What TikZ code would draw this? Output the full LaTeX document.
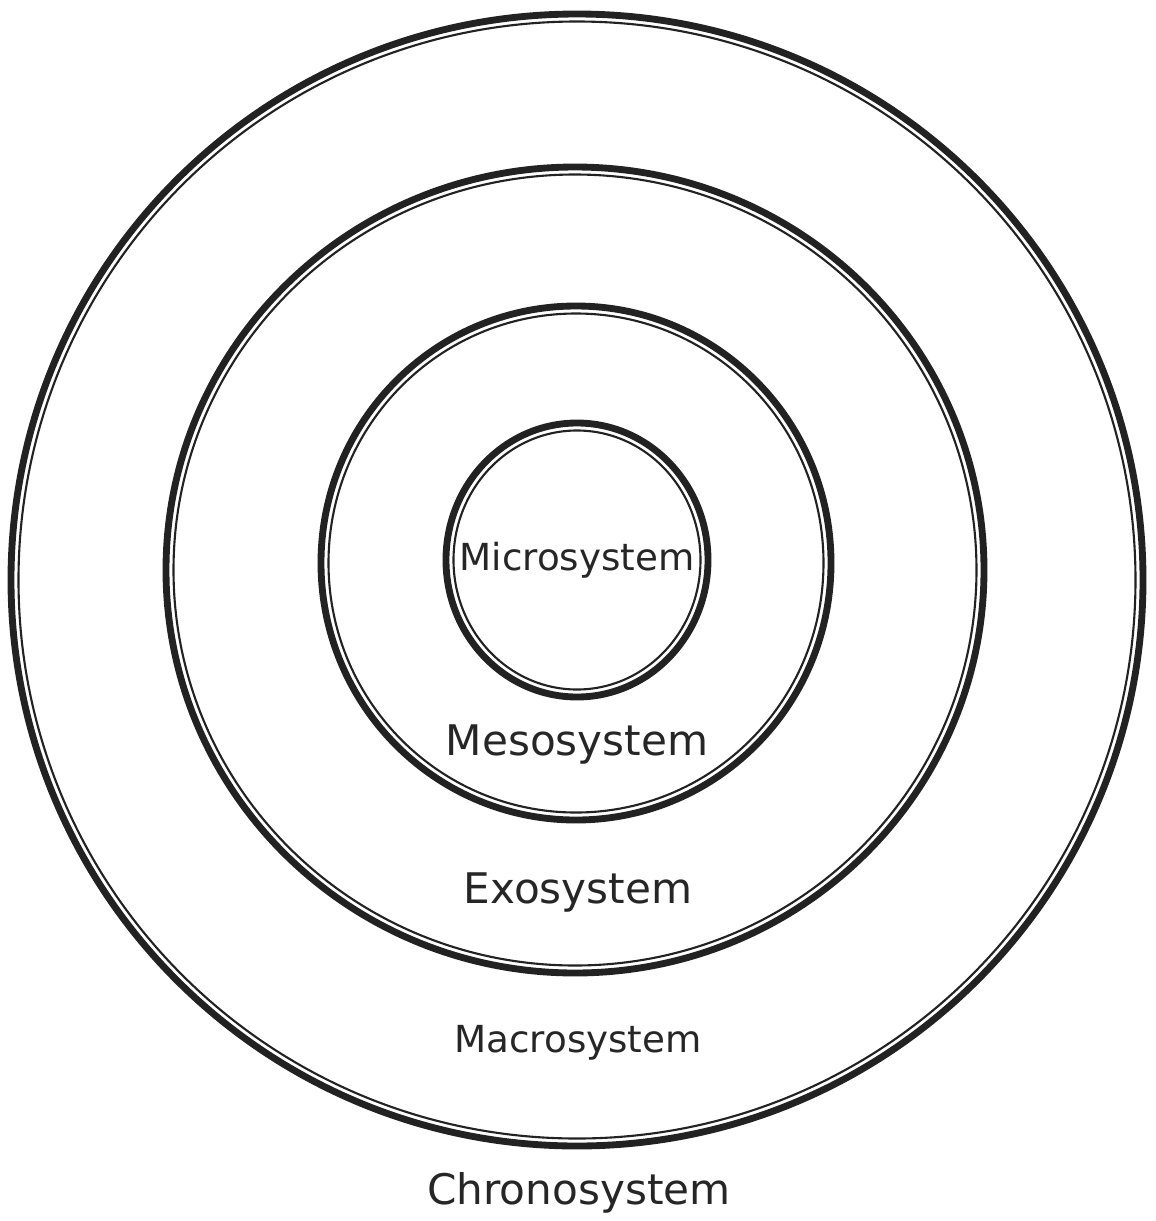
\documentclass[tikz,border=0pt]{standalone}
\usepackage{fontspec}
\setmainfont{DejaVu Sans}
\definecolor{ringink}{HTML}{222222}
\definecolor{textink}{HTML}{262626}

\begin{document}
\begin{tikzpicture}[x=0.02cm, y=-0.02cm,
    ringouter/.style={draw=ringink, line width=3.9pt},
    ringinner/.style={draw=ringink, line width=1.2pt},
    bigtext/.style={font=\fontsize{24}{28}\selectfont, text=textink, inner sep=0pt},
    smalltext/.style={font=\fontsize{21.2}{25}\selectfont, text=textink, inner sep=0pt}]
  \useasboundingbox (0,0) rectangle (1156,1221);
  \def\gap{7.5}  % distance between the thick and the thin line
  % rings: centre x / centre y / x radius / y radius
  \foreach \cx/\cy/\rx/\ry in {577/580/566/566, 575/570/409/403,
                               576/563/255/257, 577/560/131/137}{
    \draw[ringouter] (\cx,\cy) ellipse [x radius=\rx, y radius=\ry];
    \draw[ringinner] (\cx,\cy) ellipse [x radius=\rx-\gap, y radius=\ry-\gap];
  }
  % labels
  \node[smalltext] (micro)  at (577,560)  {Microsystem};
  \node[bigtext]   (meso)   at (577,745)  {Mesosystem};
  \node[bigtext]   (exo)    at (578,893)  {Exosystem};
  \node[smalltext] (macro)  at (578,1043) {Macrosystem};
  \node[bigtext]   (chrono) at (579,1193) {Chronosystem};
\end{tikzpicture}
\end{document}
